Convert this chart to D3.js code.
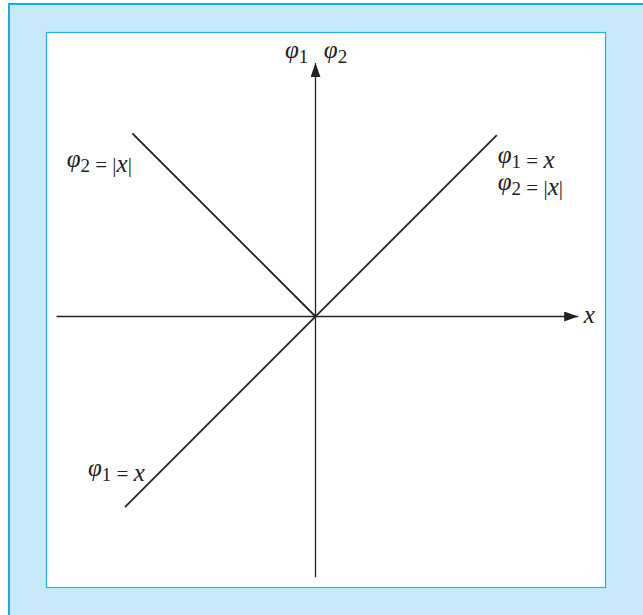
<!DOCTYPE html>
<html>
<head>
<meta charset="utf-8">
<script src="https://cdn.jsdelivr.net/npm/d3@7"></script>
<style>
  body { margin: 0; background: #fff; }
</style>
</head>
<body>
<div id="chart"></div>
<script>
var svgWidth = 643;
var svgHeight = 615;

// line segments (x, y in data units)
var phi1Line = [[-1.03, -1.03], [0.98, 0.98]];
var phi2Left = [[-0.99, 0.99], [0, 0]];
var xAxisRange = [-1.40, 1.42];
var yAxisRange = [-1.41, 1.37];

var labels = [
  { parts: [["φ", "1"]], x: -0.165, y: 1.395 },
  { parts: [["φ", "2"]], x: 0.045, y: 1.395 },
  { parts: [["φ", "1"], " = ", ["x"]], x: 0.985, y: 0.83 },
  { parts: [["φ", "2"], " = |", ["x"], "|"], x: 0.985, y: 0.685 },
  { parts: [["φ", "2"], " = |", ["x"], "|"], x: -1.345, y: 0.81 },
  { parts: [["φ", "1"], " = ", ["x"]], x: -1.23, y: -0.86 },
  { parts: [["x"]], x: 1.45, y: -0.035 }
];

var serif = "'Liberation Serif', 'Times New Roman', 'DejaVu Serif', serif";

var svg = d3.select("#chart")
  .append("svg")
  .attr("width", svgWidth)
  .attr("height", svgHeight);

// frame
svg.append("rect")
  .attr("x", 9).attr("y", 4)
  .attr("width", 640).attr("height", 620)
  .attr("fill", "#c7e9f9")
  .attr("stroke", "#0fb0ea")
  .attr("stroke-width", 2);

svg.append("rect")
  .attr("x", 46.5).attr("y", 32.5)
  .attr("width", 559).attr("height", 555)
  .attr("fill", "#fff")
  .attr("stroke", "#20b4ee")
  .attr("stroke-width", 1.2);

var x = d3.scaleLinear().domain([-1, 1]).range([315.5 - 185, 315.5 + 185]);
var y = d3.scaleLinear().domain([-1, 1]).range([316.5 + 185, 316.5 - 185]);

var line = d3.line().x(d => x(d[0])).y(d => y(d[1]));

svg.append("defs").append("marker")
  .attr("id", "arrow")
  .attr("viewBox", "0 0 14 10")
  .attr("refX", 14).attr("refY", 5)
  .attr("markerWidth", 14).attr("markerHeight", 10)
  .attr("markerUnits", "userSpaceOnUse")
  .attr("orient", "auto")
  .append("path")
  .attr("d", "M0,0L14,5L0,10Z")
  .attr("fill", "#222");

// axes
svg.append("path")
  .attr("d", line([[xAxisRange[0], 0], [xAxisRange[1], 0]]))
  .attr("stroke", "#222").attr("stroke-width", 1.3).attr("fill", "none")
  .attr("marker-end", "url(#arrow)");

svg.append("path")
  .attr("d", line([[0, yAxisRange[0]], [0, yAxisRange[1]]]))
  .attr("stroke", "#222").attr("stroke-width", 1.3).attr("fill", "none")
  .attr("marker-end", "url(#arrow)");

// function lines
[phi1Line, phi2Left].forEach(function(seg) {
  svg.append("path")
    .attr("d", line(seg))
    .attr("stroke", "#222").attr("stroke-width", 1.8).attr("fill", "none");
});

// labels
labels.forEach(function(l) {
  var t = svg.append("text")
    .attr("x", x(l.x)).attr("y", y(l.y))
    .style("font-family", serif)
    .style("font-size", "25px")
    .style("fill", "#222");
  l.parts.forEach(function(p) {
    if (typeof p === "string") {
      t.append("tspan").style("font-size", "21px").text(p);
    } else {
      t.append("tspan").style("font-style", "italic").text(p[0]);
      if (p[1]) {
        t.append("tspan").attr("dy", 5).style("font-size", "19px").text(p[1]);
        t.append("tspan").attr("dy", -5).text("");
      }
    }
  });
});
</script>
</body>
</html>
